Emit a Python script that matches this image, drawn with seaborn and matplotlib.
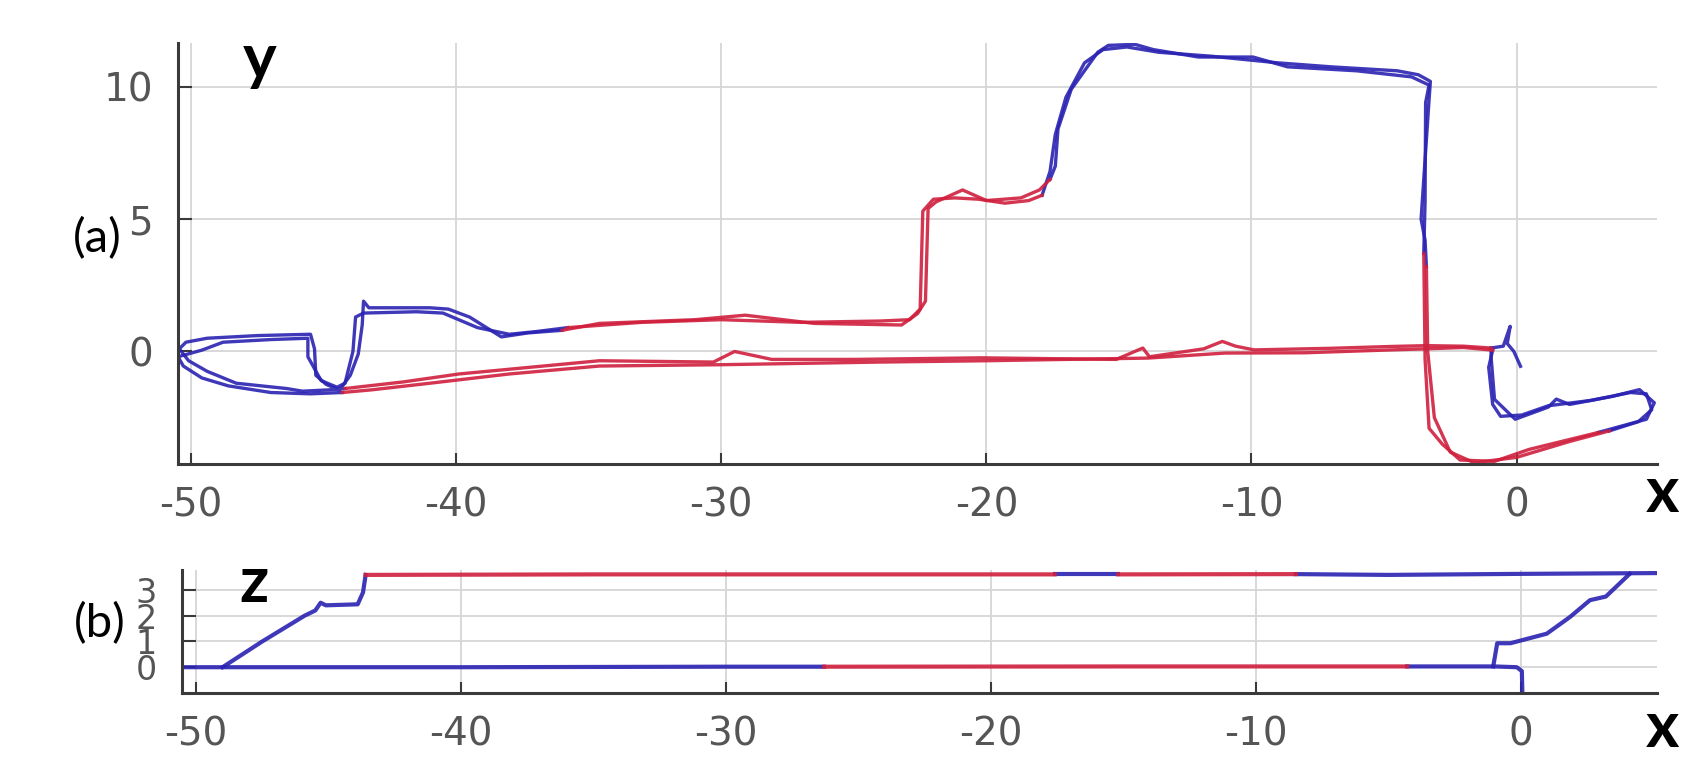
import numpy as np
import pandas as pd
import matplotlib
matplotlib.use("Agg")
import matplotlib.pyplot as plt
import seaborn as sns

# ---------------- data: x-y trajectory segments (two laps) ----------------
# lap A
a1_x = [-0.96, -0.5, -0.24, -0.35, -0.1, 0.15]
a1_y = [0.13, 0.2, 0.95, 0.3, 0.0, -0.56]
a2_x = [-0.96, -2.0, -3.4, -4.7, -7.0, -9.9, -10.6, -11.1, -11.8, -13.85, -14.1, -15.1,
        -20.2, -25.0, -28.1, -29.5, -30.3, -34.6, -39.9, -42.0, -44.2]
a2_y = [0.13, 0.2, 0.22, 0.19, 0.12, 0.06, 0.2, 0.38, 0.1, -0.2, 0.13, -0.3,
        -0.24, -0.3, -0.3, 0.0, -0.4, -0.35, -0.85, -1.15, -1.4]
a3_x = [-44.2, -44.8, -45.8, -46.4, -48.3, -49.4, -50.1, -50.45, -50.2, -49.4, -47.5, -45.5,
        -45.35, -45.3, -44.9, -44.4, -44.0, -43.7, -43.55, -43.5, -43.3, -41.0, -40.3,
        -39.5, -38.3, -37.3, -36.0]
a3_y = [-1.4, -1.45, -1.5, -1.4, -1.2, -0.75, -0.35, 0.1, 0.35, 0.5, 0.6, 0.65,
        0.1, -0.9, -1.25, -1.45, -0.9, -0.1, 1.0, 1.9, 1.65, 1.65, 1.6,
        1.3, 0.55, 0.7, 0.8]
a4_x = [-36.0, -34.6, -31.0, -29.1, -26.5, -23.2, -22.6, -22.3, -22.2, -21.9, -20.9, -20.0,
        -18.7, -18.0, -17.6]
a4_y = [0.8, 1.06, 1.2, 1.37, 1.06, 1.0, 1.43, 1.9, 5.4, 5.65, 6.1, 5.7,
        5.8, 6.1, 6.5]
a5_x = [-17.6, -17.4, -17.3, -16.8, -15.8, -15.4, -14.4, -13.7, -12.0, -9.94, -8.64, -6.03,
        -3.96, -3.3, -3.43, -3.45, -3.5]
a5_y = [6.5, 7.0, 8.4, 9.9, 11.3, 11.56, 11.6, 11.4, 11.12, 11.12, 10.75, 10.6,
        10.37, 10.06, 9.4, 5.65, 3.7]
a6_x = [-3.5, -3.45, -3.3, -2.8, -2.13, -0.83, 0.47, 3.08]
a6_y = [3.7, -0.3, -2.9, -3.5, -4.1, -4.15, -3.7, -3.06]
a7_x = [3.08, 4.9, 5.2, 4.64, 3.6, 2.0, 1.5, 1.2, -0.05, -0.83, -0.96, -0.96]
a7_y = [-3.06, -2.56, -1.94, -1.44, -1.7, -2.0, -1.8, -2.1, -2.56, -1.81, -0.2, 0.13]
# lap B
b1_x = [-0.9, -2.0, -3.4, -5.0, -8.0, -11.0, -13.9, -17.0, -20.0, -24.0, -30.0, -34.6,
        -38.0, -41.0, -43.2, -44.3]
b1_y = [0.05, 0.15, 0.1, 0.05, -0.05, -0.06, -0.25, -0.3, -0.35, -0.4, -0.5, -0.55,
        -0.85, -1.2, -1.45, -1.55]
b2_x = [-44.3, -45.5, -47.0, -48.6, -49.6, -50.3, -50.5, -49.6, -48.8, -47.0, -45.6, -45.6,
        -45.1, -44.5, -44.2, -43.9, -43.8, -43.5, -41.5, -40.5, -39.2, -38.0, -37.0, -35.8]
b2_y = [-1.55, -1.6, -1.55, -1.3, -1.0, -0.55, -0.2, 0.05, 0.35, 0.45, 0.5, -0.2,
        -1.1, -1.35, -1.2, 0.0, 1.3, 1.45, 1.5, 1.45, 0.9, 0.65, 0.75, 0.9]
b3_x = [-35.8, -33.0, -30.0, -27.0, -24.0, -22.9, -22.5, -22.4, -22.0, -21.2, -20.3, -19.3,
        -18.4, -17.9]
b3_y = [0.9, 1.1, 1.2, 1.1, 1.15, 1.2, 1.6, 5.3, 5.75, 5.8, 5.75, 5.6, 5.7, 5.9]
b4_x = [-17.9, -17.6, -17.4, -17.0, -16.3, -15.6, -14.7, -13.5, -11.5, -9.0, -7.0, -4.5,
        -3.7, -3.25, -3.3, -3.6, -3.45, -3.4]
b4_y = [5.9, 6.8, 8.2, 9.6, 10.9, 11.4, 11.5, 11.3, 11.15, 10.9, 10.75, 10.6,
        10.45, 10.2, 9.5, 5.0, 4.2, 3.2]
b5_x = [-3.4, -3.35, -3.1, -2.5, -1.6, 0.0, 2.0, 3.5]
b5_y = [3.2, 0.0, -2.5, -3.8, -4.2, -4.0, -3.4, -3.0]
b6_x = [3.5, 4.6, 5.1, 4.9, 4.3, 2.8, 1.2, 0.2, -0.6, -0.9, -1.05, -0.9]
b6_y = [-3.0, -2.65, -2.2, -1.6, -1.55, -1.85, -2.05, -2.4, -2.45, -2.0, -0.6, 0.05]

xy_segments = [
    ("a1", "blue", a1_x, a1_y), ("a2", "red", a2_x, a2_y), ("a3", "blue", a3_x, a3_y),
    ("a4", "red", a4_x, a4_y), ("a5", "blue", a5_x, a5_y), ("a6", "red", a6_x, a6_y),
    ("a7", "blue", a7_x, a7_y),
    ("b1", "red", b1_x, b1_y), ("b2", "blue", b2_x, b2_y), ("b3", "red", b3_x, b3_y),
    ("b4", "blue", b4_x, b4_y), ("b5", "red", b5_x, b5_y), ("b6", "blue", b6_x, b6_y),
]

# ---------------- data: x-z profile segments ----------------
zl1_x = [-50.5, -49.0, -40.0, -30.0, -26.3]
zl1_z = [0.0, 0.0, 0.0, 0.02, 0.02]
zl2_x = [-26.3, -15.0, -4.3]
zl2_z = [0.02, 0.03, 0.03]
zl3_x = [-4.3, -1.0, -0.16, 0.03, 0.05]
zl3_z = [0.03, 0.03, 0.0, -0.15, -1.0]
zr1_x = [-49.0, -47.5, -45.9, -45.5, -45.3, -45.1, -43.9, -43.7, -43.6]
zr1_z = [0.0, 1.0, 2.0, 2.2, 2.5, 2.4, 2.44, 2.9, 3.58]
zu1_x = [-43.6, -35.0, -25.0, -17.6]
zu1_z = [3.58, 3.6, 3.6, 3.6]
zu2_x = [-17.6, -15.2]
zu2_z = [3.6, 3.6]
zu3_x = [-15.2, -8.5]
zu3_z = [3.6, 3.61]
zu4_x = [-8.5, -5.0, 0.0, 5.1]
zu4_z = [3.61, 3.58, 3.62, 3.65]
zr2_x = [4.1, 3.2, 2.6, 1.85, 0.97, -0.4, -0.9, -1.05]
zr2_z = [3.62, 2.74, 2.6, 1.95, 1.3, 0.93, 0.93, 0.03]

xz_segments = [
    ("zl1", "blue", zl1_x, zl1_z), ("zl2", "red", zl2_x, zl2_z), ("zl3", "blue", zl3_x, zl3_z),
    ("zr1", "blue", zr1_x, zr1_z), ("zu1", "red", zu1_x, zu1_z), ("zu2", "blue", zu2_x, zu2_z),
    ("zu3", "red", zu3_x, zu3_z), ("zu4", "blue", zu4_x, zu4_z), ("zr2", "blue", zr2_x, zr2_z),
]

x_ticks = [-50, -40, -30, -20, -10, 0]
y_ticks = [0, 5, 10]
z_ticks = [0, 1, 2, 3]

palette = {"blue": "#2a22b2", "red": "#d0203e"}


def to_frame(segments):
    rows = []
    for name, col, xs, vs in segments:
        for i, (xv, vv) in enumerate(zip(xs, vs)):
            rows.append({"seg": name, "color": col, "order": i, "x": xv, "v": vv})
    return pd.DataFrame(rows)


df_xy = to_frame(xy_segments)
df_xz = to_frame(xz_segments)

W, H = 1691, 762
fig = plt.figure(figsize=(W / 100, H / 100), dpi=100)
fig.patch.set_facecolor("white")
ax1 = fig.add_axes([178 / W, 1 - 464 / H, (1657 - 178) / W, (464 - 43) / H])
ax2 = fig.add_axes([182 / W, 1 - 693 / H, (1657 - 182) / W, (693 - 570) / H])

sns.lineplot(data=df_xy, x="x", y="v", hue="color", units="seg", estimator=None, sort=False,
             palette=palette, legend=False, lw=2.4, alpha=0.9, ax=ax1)
sns.lineplot(data=df_xz, x="x", y="v", hue="color", units="seg", estimator=None, sort=False,
             palette=palette, legend=False, lw=3.0, alpha=0.9, ax=ax2)

ax1.set_xlim(-50.5, 5.3)
ax1.set_ylim(-4.25, 11.65)
ax2.set_xlim(-50.53, 5.13)
ax2.set_ylim(-1.0, 3.77)

for ax, yt, ysize in ((ax1, y_ticks, 28), (ax2, z_ticks, 24)):
    ax.set_xticks(x_ticks)
    ax.set_yticks(yt)
    ax.set_xticklabels([str(t) for t in x_ticks])
    ax.set_yticklabels([str(t) for t in yt])
    ax.set_xlabel("")
    ax.set_ylabel("")
    ax.set_facecolor("white")
    ax.grid(True, color="#d6d6d6", lw=1.3)
    ax.set_axisbelow(True)
    for s in ("top", "right"):
        ax.spines[s].set_visible(False)
    for s in ("left", "bottom"):
        ax.spines[s].set_color("#3a3a3a")
        ax.spines[s].set_linewidth(2.2)
    ax.tick_params(axis="x", direction="in", length=8, width=1.5, color="#3a3a3a",
                   labelsize=28, labelcolor="#555555", pad=16)
    ax.tick_params(axis="y", direction="in", length=10, width=1.5, color="#3a3a3a",
                   labelsize=ysize, labelcolor="#555555", pad=18)

bold = dict(fontsize=46, fontweight="bold", family=["Lato", "DejaVu Sans"], color="black")
reg = dict(fontsize=34, family=["Lato", "DejaVu Sans"], color="black")
fig.text(260 / W, 1 - 79 / H, "y", ha="center", va="baseline", **bold)
fig.text(1662 / W, 1 - 512 / H, "x", ha="center", va="baseline", **bold)
fig.text(254 / W, 1 - 602 / H, "z", ha="center", va="baseline", **bold)
fig.text(1662 / W, 1 - 747 / H, "x", ha="center", va="baseline", **bold)
fig.text(97 / W, 1 - 252 / H, "(a)", ha="center", va="baseline", **reg)
fig.text(100 / W, 1 - 637 / H, "(b)", ha="center", va="baseline", **reg)

fig.savefig("out.png", dpi=100, facecolor="white")
